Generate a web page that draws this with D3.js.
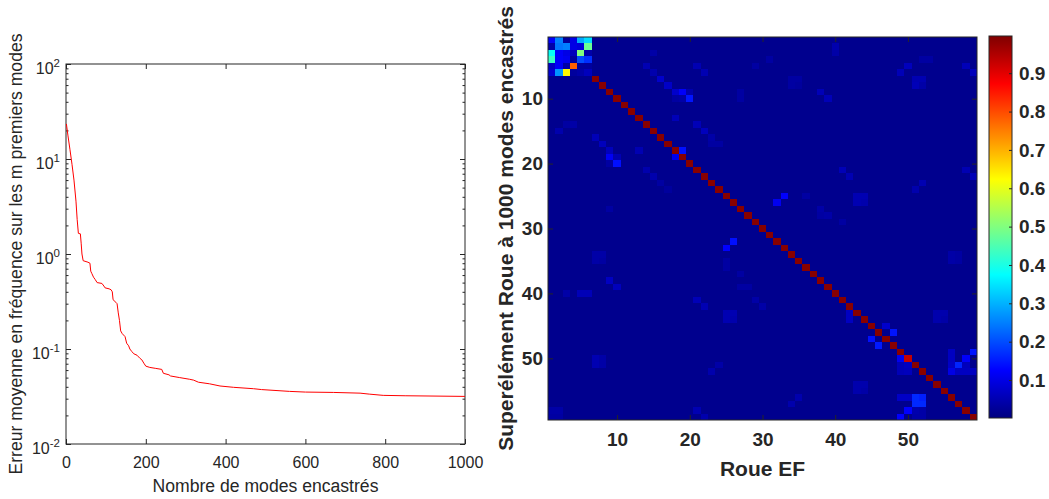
<!DOCTYPE html>
<html>
<head>
<meta charset="utf-8">
<script src="https://cdn.jsdelivr.net/npm/d3@7"></script>
<style>
  body { margin: 0; background: #fff; }
  svg { display: block; font-family: "Liberation Sans", Arial, sans-serif; }
</style>
</head>
<body>
<div id="chart"></div>
<script>
// --- Données : courbe de convergence (gauche) ---
const modes = [1, 5, 10, 15, 20, 25, 28, 31, 36, 38, 40, 43, 55, 60, 62, 65, 69, 73, 78, 90, 95, 98,
  108, 113, 116, 118, 125, 128, 131, 134, 137, 141, 148, 152, 157, 160, 165, 170, 178, 185, 190,
  195, 200, 210, 225, 240, 244, 258, 262, 285, 310, 320, 332, 360, 386, 420, 470, 490, 560, 600,
  670, 737, 760, 795, 850, 1000];
const erreur = [23.4, 17.5, 12.5, 8.8, 6.0, 3.6, 2.3, 1.65, 1.63, 1.3, 1.0, 0.85, 0.82, 0.80, 0.66,
  0.62, 0.57, 0.54, 0.50, 0.49, 0.46, 0.44, 0.43, 0.42, 0.40, 0.33, 0.31, 0.30, 0.24, 0.20, 0.155,
  0.145, 0.135, 0.115, 0.108, 0.100, 0.094, 0.089, 0.086, 0.080, 0.077, 0.071, 0.066, 0.064, 0.0625,
  0.061, 0.0555, 0.0535, 0.052, 0.050, 0.048, 0.047, 0.0447, 0.043, 0.0408, 0.0395, 0.0382, 0.0374,
  0.0358, 0.0352, 0.0349, 0.0343, 0.0335, 0.0325, 0.0322, 0.0317];
const xTicksGauche = [0, 200, 400, 600, 800, 1000];
const decades = [-2, -1, 0, 1, 2];

// --- Données : matrice MAC (droite) ---
const nModes = 59;
const fond = 0.015;
// bloc 6x6 en haut à gauche (lignes 1..6, colonnes 1..6)
const blocHautGauche = [
  [0.12, 0.25, 0.03, 0.10, 0.29, 0.34],
  [0.04, 0.24, 0.25, 0.10, 0.09, 0.48],
  [0.38, 0.12, 0.10, 0.06, 0.50, 0.04],
  [0.43, 0.12, 0.11, 0.03, 0.20, 0.17],
  [0.07, 0.12, 0.04, 0.78, 0.03, 0.03],
  [0.08, 0.27, 0.63, 0.03, 0.04, 0.06]
];
// diagonale, modes 7 à 59
const diagonale = [
  0.99, 0.99, 0.99, 0.99, 0.99, 0.99, 0.99, 0.99, 0.99, 0.99,
  0.99, 0.99, 0.99, 0.99, 0.99, 0.99, 0.99, 0.99, 0.99, 0.99,
  0.99, 0.99, 0.99, 0.99, 0.99, 0.99, 0.99, 0.99, 0.99, 0.99,
  0.99, 0.99, 0.99, 0.99, 0.99, 0.99, 0.99, 0.99, 0.99, 0.99,
  0.99, 0.99, 0.99, 0.93, 0.99, 0.99, 0.99, 0.99, 0.99, 0.99,
  0.99, 0.99, 0.99
];
// termes hors diagonale : [ligne, colonne, valeur]
const horsDiagonale = [
  [2, 40, 0.045], [3, 40, 0.04], [3, 15, 0.04], [4, 31, 0.035], [4, 52, 0.035], [4, 53, 0.035],
  [5, 14, 0.05], [6, 15, 0.045], [5, 21, 0.05], [6, 22, 0.05], [5, 29, 0.035], [5, 50, 0.06],
  [6, 49, 0.055], [5, 58, 0.055], [6, 59, 0.06],
  [7, 16, 0.075], [8, 17, 0.07], [9, 18, 0.075], [9, 19, 0.12], [10, 20, 0.145], [9, 20, 0.045],
  [10, 19, 0.04], [10, 18, 0.035], [9, 27, 0.035], [10, 27, 0.035], [7, 34, 0.035], [7, 35, 0.035],
  [8, 34, 0.035], [8, 35, 0.03], [9, 38, 0.055], [10, 39, 0.055], [7, 51, 0.05], [7, 52, 0.05],
  [8, 51, 0.055], [8, 52, 0.04],
  [13, 18, 0.055], [15, 2, 0.045], [14, 4, 0.04], [14, 3, 0.035], [14, 21, 0.055], [15, 22, 0.06],
  [16, 23, 0.04], [17, 24, 0.035], [17, 23, 0.035],
  [16, 7, 0.055], [17, 8, 0.06], [18, 9, 0.06], [19, 9, 0.115], [19, 10, 0.05], [20, 10, 0.14],
  [20, 9, 0.035], [18, 13, 0.05], [19, 18, 0.11], [18, 19, 0.14],
  [21, 14, 0.045], [22, 15, 0.045], [23, 16, 0.035], [24, 17, 0.03],
  [21, 41, 0.055], [22, 42, 0.05], [21, 58, 0.05], [22, 59, 0.055], [23, 52, 0.05], [24, 51, 0.045],
  [26, 32, 0.11], [25, 33, 0.125], [25, 36, 0.035], [25, 43, 0.05], [25, 44, 0.05], [26, 43, 0.05],
  [26, 44, 0.045], [27, 9, 0.035], [27, 38, 0.04], [28, 39, 0.04], [28, 38, 0.035], [29, 41, 0.035],
  [33, 25, 0.125], [32, 26, 0.14],
  [34, 7, 0.04], [34, 8, 0.04], [35, 7, 0.04], [35, 8, 0.035], [34, 56, 0.04], [34, 57, 0.035],
  [35, 56, 0.04], [35, 57, 0.035], [35, 25, 0.035], [36, 25, 0.035], [37, 27, 0.035],
  [38, 9, 0.065], [39, 10, 0.06], [40, 3, 0.04], [40, 5, 0.055], [40, 6, 0.055], [39, 27, 0.035],
  [39, 28, 0.035],
  [41, 21, 0.055], [42, 22, 0.05], [41, 29, 0.04], [42, 30, 0.04],
  [43, 25, 0.05], [43, 26, 0.05], [44, 25, 0.05], [44, 26, 0.045],
  [43, 42, 0.065], [44, 42, 0.065], [43, 54, 0.045], [43, 55, 0.045], [44, 54, 0.045], [44, 55, 0.04],
  [45, 47, 0.075], [46, 48, 0.145], [47, 45, 0.14], [48, 46, 0.15],
  [50, 49, 0.11], [51, 49, 0.055], [51, 50, 0.065], [52, 49, 0.055], [52, 50, 0.06],
  [49, 56, 0.065], [50, 56, 0.065], [51, 56, 0.07], [52, 56, 0.1], [51, 57, 0.16], [50, 58, 0.12],
  [49, 59, 0.145], [52, 57, 0.065], [52, 58, 0.065], [52, 59, 0.065], [51, 58, 0.06],
  [50, 7, 0.05], [50, 8, 0.04], [51, 7, 0.05], [51, 8, 0.04], [51, 24, 0.04], [52, 23, 0.045],
  [54, 43, 0.045], [54, 44, 0.045], [55, 43, 0.045], [55, 44, 0.04], [57, 34, 0.045], [56, 35, 0.045],
  [56, 51, 0.165], [56, 52, 0.155], [57, 51, 0.165], [57, 52, 0.165], [56, 49, 0.07], [56, 50, 0.07],
  [58, 50, 0.125], [59, 49, 0.125], [58, 51, 0.045], [58, 52, 0.04], [59, 51, 0.04], [59, 52, 0.04],
  [58, 21, 0.05], [59, 22, 0.045], [58, 1, 0.04], [58, 2, 0.04], [59, 1, 0.035], [59, 2, 0.035]
];
const ticksMatrice = [10, 20, 30, 40, 50];
const ticksBarre = [0.1, 0.2, 0.3, 0.4, 0.5, 0.6, 0.7, 0.8, 0.9];
const cMin = 0.001, cMax = 0.997;

// --- Configuration ---
const W = 1049, H = 499;
const axeCouleur = "#262626";

const svg = d3.select("#chart").append("svg")
  .attr("width", W).attr("height", H);

// palette jet (MATLAB)
function jet(v) {
  const t = Math.max(0, Math.min(1, (v - cMin) / (cMax - cMin)));
  const c = k => Math.round(255 * Math.max(0, Math.min(1, 1.5 - Math.abs(4 * t - k))));
  return `rgb(${c(3)},${c(2)},${c(1)})`;
}

// ================= Graphique de gauche =================
const gx = d3.scaleLinear().domain([0, 1000]).range([66, 465]);
const gy = d3.scaleLog().domain([1e-2, 1e2]).range([444, 64]);

const gauche = svg.append("g");

const mineurs = [];
for (let k = -2; k < 2; k++) for (let m = 2; m <= 9; m++) mineurs.push(m * Math.pow(10, k));
const majeurs = decades.map(k => Math.pow(10, k));

function styleAxe(g) {
  g.select(".domain").remove();
  g.selectAll("line").attr("stroke", axeCouleur);
  g.selectAll("text").attr("fill", axeCouleur);
}

gauche.append("g").attr("transform", "translate(0,444)")
  .call(d3.axisBottom(gx).tickValues(xTicksGauche).tickSize(-5).tickPadding(12.5).tickFormat(d3.format("d")))
  .call(styleAxe)
  .selectAll("text").style("font-size", "16px").style("font-family", "Liberation Sans, Arial");
gauche.append("g").attr("transform", "translate(0,64)")
  .call(d3.axisTop(gx).tickValues(xTicksGauche).tickSize(-5).tickFormat(""))
  .call(styleAxe);
gauche.append("g").attr("transform", "translate(66,0)")
  .call(d3.axisLeft(gy).tickValues(majeurs).tickSize(-5).tickFormat(""))
  .call(styleAxe);
gauche.append("g").attr("transform", "translate(66,0)")
  .call(d3.axisLeft(gy).tickValues(mineurs).tickSize(-2.5).tickFormat(""))
  .call(styleAxe);
gauche.append("g").attr("transform", "translate(465,0)")
  .call(d3.axisRight(gy).tickValues(majeurs).tickSize(-5).tickFormat(""))
  .call(styleAxe);
gauche.append("g").attr("transform", "translate(465,0)")
  .call(d3.axisRight(gy).tickValues(mineurs).tickSize(-2.5).tickFormat(""))
  .call(styleAxe);

// étiquettes 10^k
decades.forEach(k => {
  const t = gauche.append("text")
    .attr("x", 60).attr("y", gy(Math.pow(10, k)) + 9.5)
    .attr("text-anchor", "end").attr("fill", axeCouleur)
    .style("font-size", "16px");
  t.append("tspan").text("10");
  t.append("tspan").attr("dy", -7).style("font-size", "11.5px").text(String(k));
});

gauche.append("rect")
  .attr("x", 66).attr("y", 64).attr("width", 465 - 66).attr("height", 444 - 64)
  .attr("fill", "none").attr("stroke", axeCouleur).attr("stroke-width", 1);

const courbe = modes.map((m, i) => [m, erreur[i]]);
gauche.append("path")
  .datum(courbe)
  .attr("fill", "none").attr("stroke", "#ff0000").attr("stroke-width", 1)
  .attr("d", d3.line().x(d => gx(d[0])).y(d => gy(d[1])));

gauche.append("text")
  .attr("transform", "translate(22,254) rotate(-90)")
  .attr("text-anchor", "middle").attr("fill", axeCouleur)
  .style("font-size", "17.6px")
  .text("Erreur moyenne en fréquence sur les m premiers modes");
gauche.append("text")
  .attr("x", 265.5).attr("y", 492)
  .attr("text-anchor", "middle").attr("fill", axeCouleur)
  .style("font-size", "17.6px")
  .text("Nombre de modes encastrés");

// ================= Matrice (droite) =================
const mx = d3.scaleLinear().domain([0.5, nModes + 0.5]).range([548, 977]);
const my = d3.scaleLinear().domain([0.5, nModes + 0.5]).range([37, 420]);

// construction de la matrice
const matrice = [];
for (let i = 1; i <= nModes; i++) {
  for (let j = 1; j <= nModes; j++) {
    let v = fond;
    if (i <= 6 && j <= 6) v = blocHautGauche[i - 1][j - 1];
    else if (i === j) v = diagonale[i - 7];
    matrice.push({ ligne: i, col: j, v: v });
  }
}
horsDiagonale.forEach(([i, j, v]) => { matrice[(i - 1) * nModes + (j - 1)].v = v; });

const droite = svg.append("g");
// fond de la matrice pour éviter les jointures visibles
droite.append("rect")
  .attr("x", 548).attr("y", 37).attr("width", 977 - 548).attr("height", 420 - 37)
  .attr("fill", jet(fond));
droite.selectAll("rect.cell")
  .data(matrice.filter(d => d.v !== fond))
  .join("rect")
  .attr("class", "cell")
  .attr("x", d => Math.round(mx(d.col - 0.5)))
  .attr("y", d => Math.round(my(d.ligne - 0.5)))
  .attr("width", d => Math.round(mx(d.col + 0.5)) - Math.round(mx(d.col - 0.5)))
  .attr("height", d => Math.round(my(d.ligne + 0.5)) - Math.round(my(d.ligne - 0.5)))
  .attr("shape-rendering", "crispEdges")
  .attr("fill", d => jet(d.v));

function styleAxeGras(g) {
  styleAxe(g);
  g.selectAll("text").style("font-size", "19px").style("font-weight", "bold")
    .style("font-family", "Liberation Sans, Arial");
}

droite.append("g").attr("transform", "translate(0,420)")
  .call(d3.axisBottom(mx).tickValues(ticksMatrice).tickSize(-5).tickPadding(13))
  .call(styleAxeGras);
droite.append("g").attr("transform", "translate(0,37)")
  .call(d3.axisTop(mx).tickValues(ticksMatrice).tickSize(-5).tickFormat(""))
  .call(styleAxe);
droite.append("g").attr("transform", "translate(548,0)")
  .call(d3.axisLeft(my).tickValues(ticksMatrice).tickSize(-5).tickPadding(5))
  .call(styleAxeGras);
droite.append("g").attr("transform", "translate(977,0)")
  .call(d3.axisRight(my).tickValues(ticksMatrice).tickSize(-5).tickFormat(""))
  .call(styleAxe);

droite.append("rect")
  .attr("x", 548).attr("y", 37).attr("width", 977 - 548).attr("height", 420 - 37)
  .attr("fill", "none").attr("stroke", axeCouleur).attr("stroke-width", 1);

droite.append("text")
  .attr("transform", "translate(513,228.5) rotate(-90)")
  .attr("text-anchor", "middle").attr("fill", axeCouleur)
  .style("font-size", "21px").style("font-weight", "bold")
  .text("Superélément Roue à 1000 modes encastrés");
droite.append("text")
  .attr("x", 762.5).attr("y", 475.5)
  .attr("text-anchor", "middle").attr("fill", axeCouleur)
  .style("font-size", "21px").style("font-weight", "bold")
  .text("Roue EF");

// ================= Barre de couleur =================
const by = d3.scaleLinear().domain([cMin, cMax]).range([418, 36]);
const grad = svg.append("defs").append("linearGradient")
  .attr("id", "jet").attr("x1", 0).attr("y1", 1).attr("x2", 0).attr("y2", 0);
d3.range(0, 65).forEach(k => {
  const v = cMin + (cMax - cMin) * k / 64;
  grad.append("stop").attr("offset", `${(k / 64) * 100}%`).attr("stop-color", jet(v));
});
svg.append("rect")
  .attr("x", 989).attr("y", 36).attr("width", 1012 - 989).attr("height", 418 - 36)
  .attr("fill", "url(#jet)");
svg.append("g").attr("transform", "translate(1012,0)")
  .call(d3.axisRight(by).tickValues(ticksBarre).tickSize(-3).tickPadding(7).tickFormat(d3.format(".1f")))
  .call(styleAxeGras);
svg.append("rect")
  .attr("x", 989).attr("y", 36).attr("width", 1012 - 989).attr("height", 418 - 36)
  .attr("fill", "none").attr("stroke", axeCouleur).attr("stroke-width", 1);
</script>
</body>
</html>
